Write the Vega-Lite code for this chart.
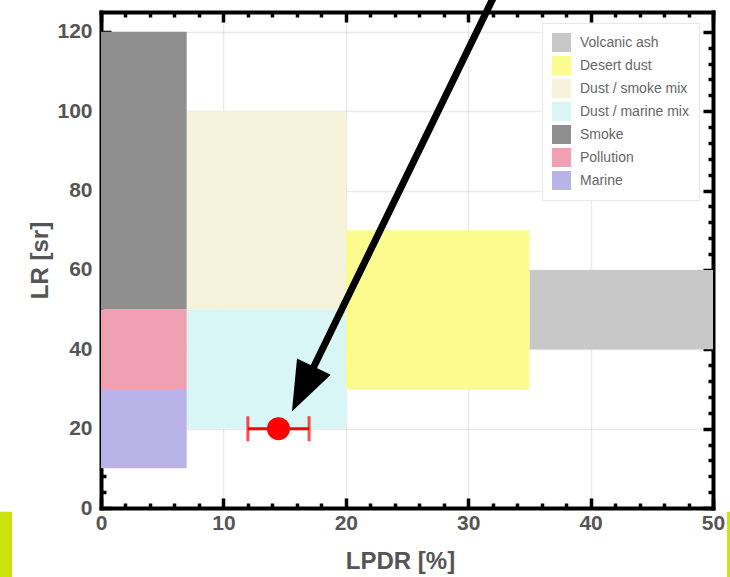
{
  "$schema": "https://vega.github.io/schema/vega-lite/v6.json",
  "width": 612,
  "height": 496,
  "autosize": {"type": "none"},
  "padding": {"left": 101, "top": 12, "right": 17, "bottom": 69},
  "background": "white",
  "config": {
    "view": {"stroke": null},
    "font": "Liberation Sans",
    "axis": {
      "zindex": 1,
      "domain": false,
      "domainColor": "#000",
      "domainWidth": 4,
      "domainCap": "square",
      "tickColor": "#000",
      "tickWidth": 3.5,
      "labelFont": "Liberation Sans",
      "labelFontWeight": "bold",
      "labelFontSize": 21,
      "labelColor": "#555555",
      "labelFlush": false,
      "labelOverlap": false,
      "titleFont": "Liberation Sans",
      "titleFontWeight": "bold",
      "titleFontSize": 24,
      "titleColor": "#555555",
      "gridColor": "#000",
      "gridOpacity": 0.08,
      "gridWidth": 1.5
    }
  },
  "datasets": {
    "zones": [
      {"type": "Volcanic ash", "x1": 35, "x2": 50, "y1": 40, "y2": 60},
      {"type": "Desert dust", "x1": 20, "x2": 35, "y1": 30, "y2": 70},
      {"type": "Dust / smoke mix", "x1": 7, "x2": 20, "y1": 50, "y2": 100},
      {"type": "Dust / marine mix", "x1": 7, "x2": 20, "y1": 20, "y2": 50},
      {"type": "Smoke", "x1": 0, "x2": 7, "y1": 50, "y2": 120},
      {"type": "Pollution", "x1": 0, "x2": 7, "y1": 30, "y2": 50},
      {"type": "Marine", "x1": 0, "x2": 7, "y1": 10, "y2": 30}
    ],
    "edges": [
      {"x1": -8.3, "x2": -7.27, "y1": -0.93, "y2": -20},
      {"x1": 51.15, "x2": 53, "y1": -0.93, "y2": -20}
    ],
    "measurement": [
      {"lpdr": 14.5, "lpdr_lo": 12.0, "lpdr_hi": 17.0, "lr": 20}
    ],
    "caps": [
      {"lpdr": 12.0, "lr": 20},
      {"lpdr": 17.0, "lr": 20}
    ],
    "arrow": [
      {"xs": 32.43, "ys": 131, "xe": 16.67, "ye": 31.06, "xt": 15.6, "yt": 24.3}
    ]
  },
  "layer": [
    {
      "data": {"name": "zones"},
      "mark": {"type": "rect"},
      "encoding": {
        "x": {
          "field": "x1", "type": "quantitative",
          "scale": {"domain": [0, 50], "nice": false, "zero": false},
          "axis": {
            "orient": "bottom",
            "values": [0, 10, 20, 30, 40, 50],
            "tickSize": -10,
            "labelPadding": 14,
            "grid": true,
            "domain": true,
            "title": "LPDR [%]",
            "titleX": 299,
            "titleY": 60,
            "titleBaseline": "alphabetic"
          }
        },
        "x2": {"field": "x2"},
        "y": {
          "field": "y1", "type": "quantitative",
          "scale": {"domain": [0, 125], "nice": false, "zero": false},
          "axis": {
            "orient": "left",
            "values": [0, 20, 40, 60, 80, 100, 120],
            "tickSize": -10,
            "labelPadding": 19,
            "grid": true,
            "domain": true,
            "title": "LR [sr]",
            "titleX": -54,
            "titleY": 248,
            "titleAngle": 270,
            "titleBaseline": "alphabetic"
          }
        },
        "y2": {"field": "y2"},
        "fill": {
          "field": "type", "type": "nominal",
          "scale": {
            "domain": ["Volcanic ash", "Desert dust", "Dust / smoke mix", "Dust / marine mix", "Smoke", "Pollution", "Marine"],
            "range": ["#c8c8c8", "#fbfb8e", "#f5f3da", "#d8f6f6", "#8f8f8f", "#f0a0b2", "#b9b3e8"]
          },
          "legend": {
            "title": null,
            "orient": "none",
            "legendX": 441,
            "legendY": 11,
            "symbolType": "square",
            "symbolSize": 361,
            "symbolStrokeWidth": 0,
            "labelFont": "Liberation Sans",
            "labelFontSize": 14,
            "labelColor": "#666666",
            "labelLimit": 300,
            "padding": 10,
            "rowPadding": 4,
            "labelOffset": 9,
            "fillColor": "white",
            "strokeColor": "#e8e8e8",
            "zindex": 2
          }
        }
      }
    },
    {
      "data": {"name": "edges"},
      "mark": {"type": "rect", "color": "#c8e40c", "clip": false},
      "encoding": {
        "x": {
          "field": "x1", "type": "quantitative",
          "scale": {"domain": [0, 50], "nice": false, "zero": false},
          "axis": {
            "orient": "bottom",
            "values": [2, 4, 6, 8, 12, 14, 16, 18, 22, 24, 26, 28, 32, 34, 36, 38, 42, 44, 46, 48],
            "tickSize": -5,
            "labels": false,
            "grid": false,
            "title": null
          }
        },
        "x2": {"field": "x2"},
        "y": {
          "field": "y1", "type": "quantitative",
          "scale": {"domain": [0, 125], "nice": false, "zero": false},
          "axis": {
            "orient": "left",
            "values": [4, 8, 12, 16, 24, 28, 32, 36, 44, 48, 52, 56, 64, 68, 72, 76, 84, 88, 92, 96, 104, 108, 112, 116],
            "tickSize": -5,
            "labels": false,
            "grid": false,
            "title": null
          }
        },
        "y2": {"field": "y2"}
      }
    },
    {
      "data": {"name": "measurement"},
      "mark": {"type": "rule", "color": "#ff0000", "strokeWidth": 3},
      "encoding": {
        "x": {
          "field": "lpdr_lo", "type": "quantitative",
          "scale": {"domain": [0, 50], "nice": false, "zero": false},
          "axis": {
            "orient": "top",
            "values": [0, 10, 20, 30, 40, 50],
            "tickSize": -10,
            "labels": false,
            "grid": false,
            "domain": true,
            "title": null
          }
        },
        "x2": {"field": "lpdr_hi"},
        "y": {
          "field": "lr", "type": "quantitative",
          "scale": {"domain": [0, 125], "nice": false, "zero": false},
          "axis": {
            "orient": "right",
            "values": [0, 20, 40, 60, 80, 100, 120],
            "tickSize": -10,
            "labels": false,
            "grid": false,
            "domain": true,
            "title": null
          }
        }
      }
    },
    {
      "data": {"name": "caps"},
      "mark": {"type": "tick", "orient": "vertical", "color": "#ff0000", "size": 25, "thickness": 3},
      "encoding": {
        "x": {
          "field": "lpdr", "type": "quantitative",
          "scale": {"domain": [0, 50], "nice": false, "zero": false},
          "axis": {
            "orient": "top",
            "values": [2, 4, 6, 8, 12, 14, 16, 18, 22, 24, 26, 28, 32, 34, 36, 38, 42, 44, 46, 48],
            "tickSize": -5,
            "labels": false,
            "grid": false,
            "title": null
          }
        },
        "y": {
          "field": "lr", "type": "quantitative",
          "scale": {"domain": [0, 125], "nice": false, "zero": false},
          "axis": {
            "orient": "right",
            "values": [4, 8, 12, 16, 24, 28, 32, 36, 44, 48, 52, 56, 64, 68, 72, 76, 84, 88, 92, 96, 104, 108, 112, 116],
            "tickSize": -5,
            "labels": false,
            "grid": false,
            "title": null
          }
        }
      }
    },
    {
      "data": {"name": "measurement"},
      "mark": {"type": "circle", "color": "#ff0000", "size": 530, "opacity": 1},
      "encoding": {
        "x": {"field": "lpdr", "type": "quantitative", "scale": {"domain": [0, 50], "nice": false, "zero": false}, "axis": null},
        "y": {"field": "lr", "type": "quantitative", "scale": {"domain": [0, 125], "nice": false, "zero": false}, "axis": null}
      }
    },
    {
      "data": {"name": "arrow"},
      "mark": {"type": "rule", "color": "#000000", "strokeWidth": 7, "strokeCap": "butt", "clip": false},
      "encoding": {
        "x": {"field": "xs", "type": "quantitative", "scale": {"domain": [0, 50], "nice": false, "zero": false}, "axis": null},
        "y": {"field": "ys", "type": "quantitative", "scale": {"domain": [0, 125], "nice": false, "zero": false}, "axis": null},
        "x2": {"field": "xe"},
        "y2": {"field": "ye"}
      }
    },
    {
      "data": {"name": "arrow"},
      "mark": {"type": "point", "shape": "M0,0L-0.75,2L0.75,2Z", "angle": 206, "size": 2500, "filled": true, "color": "#000000", "opacity": 1, "strokeWidth": 0},
      "encoding": {
        "x": {"field": "xt", "type": "quantitative", "scale": {"domain": [0, 50], "nice": false, "zero": false}, "axis": null},
        "y": {"field": "yt", "type": "quantitative", "scale": {"domain": [0, 125], "nice": false, "zero": false}, "axis": null}
      }
    }
  ],
  "resolve": {"axis": {"x": "independent", "y": "independent"}}
}
